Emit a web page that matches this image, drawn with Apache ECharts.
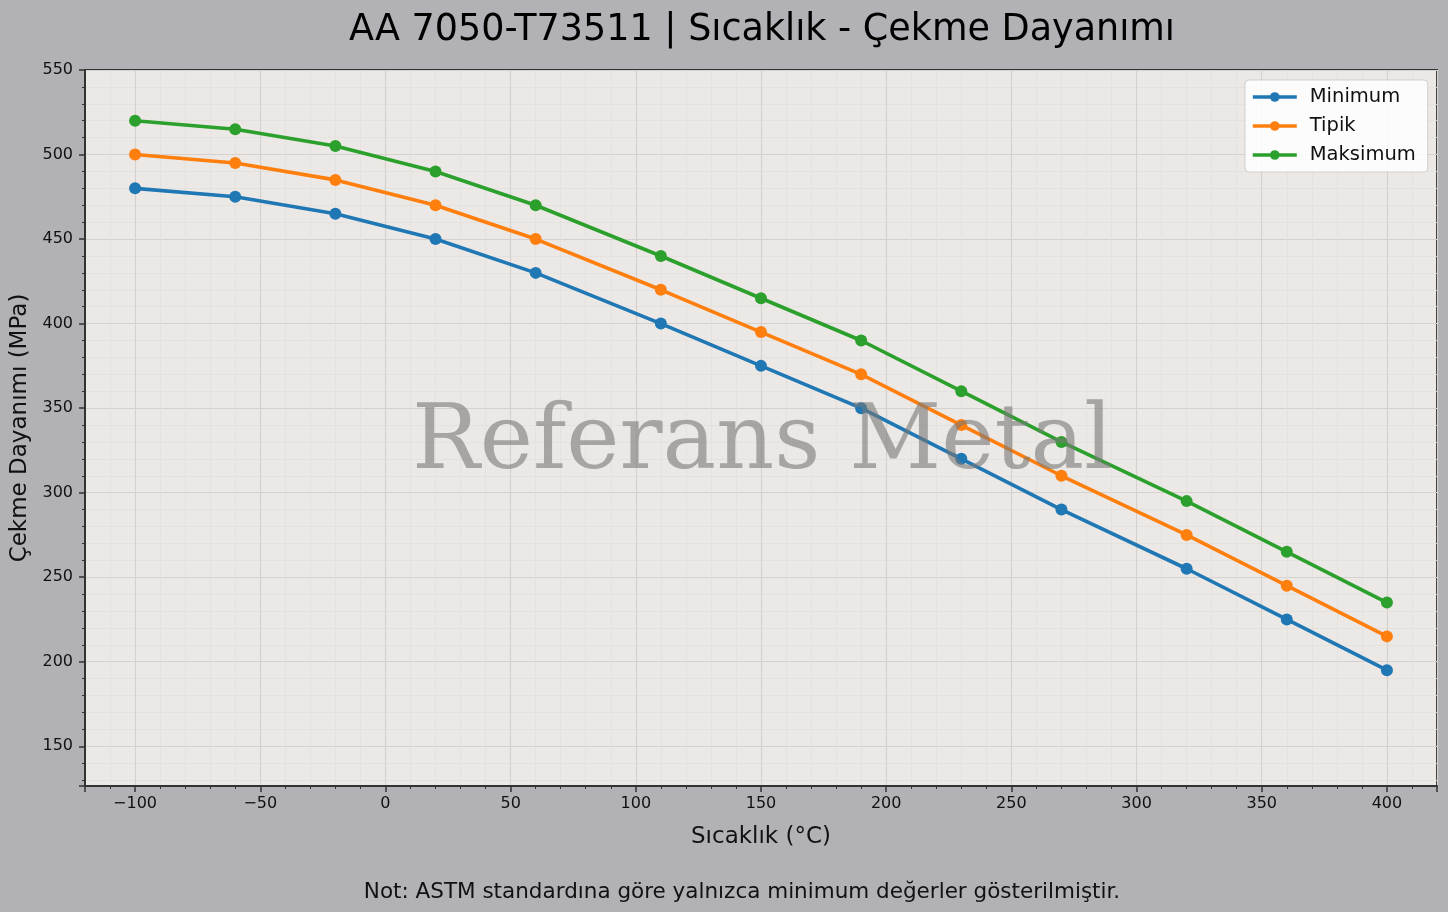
<!DOCTYPE html>
<html>
<head>
<meta charset="utf-8">
<script src="https://cdn.jsdelivr.net/npm/echarts@6/dist/echarts.min.js"></script>
<style>
  html, body { margin: 0; padding: 0; background: #b2b1b6; }
  #chart { width: 1448px; height: 912px; }
</style>
</head>
<body>
<div id="chart"></div>
<script>
// sıcaklık noktaları (°C)
const temps = [-100, -60, -20, 20, 60, 110, 150, 190, 230, 270, 320, 360, 400];
// çekme dayanımı (MPa)
const minVals = [480, 475, 465, 450, 430, 400, 375, 350, 320, 290, 255, 225, 195];
const typVals = [500, 495, 485, 470, 450, 420, 395, 370, 340, 310, 275, 245, 215];
const maxVals = [520, 515, 505, 490, 470, 440, 415, 390, 360, 330, 295, 265, 235];
const seriesNames = ['Minimum', 'Tipik', 'Maksimum'];
const colors = ['#1f77b4', '#ff7f0e', '#2ca02c'];

const font = 'DejaVu Sans';
const pair = vals => temps.map((t, i) => [t, vals[i]]);
const minus = v => String(v).replace('-', '\u2212');

const chart = echarts.init(document.getElementById('chart'));

const axisCommon = {
    axisLine: { show: true, onZero: false, lineStyle: { color: '#333', width: 2 } },
    axisTick: { show: true, length: 6, lineStyle: { color: '#333', width: 1.5 } },
    minorTick: { show: true, splitNumber: 5, length: 3, lineStyle: { color: '#333', width: 1 } },
    splitLine: { show: true, lineStyle: { color: '#d4d1cf', width: 1.2 } },
    minorSplitLine: { show: true, lineStyle: { color: '#e2dfdd', width: 0.8 } },
    axisLabel: { color: '#111', fontFamily: font, fontSize: 16, showMinLabel: false },
    nameTextStyle: { color: '#111', fontFamily: font, fontSize: 23 }
};

chart.setOption({
    backgroundColor: '#b2b1b6',
    animation: false,
    title: [{
        text: 'AA 7050-T73511 | Sıcaklık - Çekme Dayanımı',
        left: 757, top: 7, textAlign: 'center',
        textStyle: { fontFamily: font, fontSize: 36.5, fontWeight: 'normal', color: '#000' }
    }, {
        text: 'Not: ASTM standardına göre yalnızca minimum değerler gösterilmiştir.',
        left: 737, top: 876, textAlign: 'center',
        textStyle: { fontFamily: font, fontSize: 21.5, fontWeight: 'normal', color: '#111' }
    }],
    grid: { left: 85, right: 11, top: 70, bottom: 126, show: true, backgroundColor: '#ebe8e6', borderColor: '#333', borderWidth: 2 },
    legend: {
        orient: 'vertical', left: 1245, top: 80,
        data: seriesNames,
        itemWidth: 44, itemHeight: 12, itemGap: 9,
        padding: [7, 12, 7, 6],
        backgroundColor: 'rgba(255,255,255,0.85)',
        borderColor: '#cfcfcf', borderWidth: 1, borderRadius: 4,
        lineStyle: { width: 3.6 },
        textStyle: { fontFamily: font, fontSize: 19.5, color: '#111', lineHeight: 20, padding: [0, 0, 0, 8] }
    },
    xAxis: Object.assign({}, axisCommon, {
        type: 'value', min: -120, max: 420, minInterval: 50, maxInterval: 50,
        name: 'Sıcaklık (°C)', nameLocation: 'middle', nameGap: 40,
        axisLabel: Object.assign({}, axisCommon.axisLabel, { showMaxLabel: false, margin: 10, formatter: minus })
    }),
    yAxis: Object.assign({}, axisCommon, {
        type: 'value', min: 126.5, max: 550, minInterval: 50, maxInterval: 50,
        name: 'Çekme Dayanımı (MPa)', nameLocation: 'middle', nameGap: 50,
        axisLabel: Object.assign({}, axisCommon.axisLabel, { margin: 12 })
    }),
    series: [minVals, typVals, maxVals].map((vals, i) => ({
        name: seriesNames[i],
        type: 'line',
        data: pair(vals),
        symbol: 'circle', symbolSize: 12,
        lineStyle: { width: 3.6, color: colors[i] },
        itemStyle: { color: colors[i] },
        z: 2 + i
    })),
    graphic: [{
        type: 'text', left: 412, top: 400, z: 100, silent: true,
        style: {
            text: 'Referans Metal',
            font: '90px "DejaVu Serif"',
            fill: 'rgba(120,120,120,0.6)'
        }
    }]
});
</script>
</body>
</html>
